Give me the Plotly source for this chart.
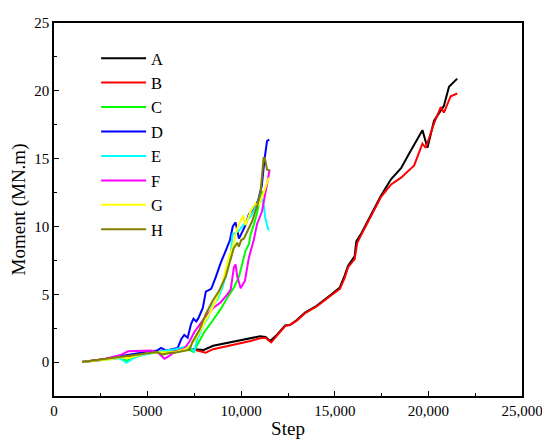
import plotly.graph_objects as go

# Moment vs step, eight runs (A-H)
names = ["A", "B", "C", "D", "E", "F", "G", "H"]
colors = ["#000000", "#ff0000", "#00ff00", "#0000ff", "#00ffff", "#ff00ff", "#ffff00", "#808000"]

a_x = [1500, 2500, 3500, 4500, 5500, 6500, 7000, 7500, 8000, 8500, 9000, 9500, 10000, 10500, 11000,
       11300, 11550, 11900, 12350, 12620, 12970, 13410, 14030, 14740, 15270, 15530, 15710, 16060, 16150,
       16420, 16680, 17480, 18010, 18540, 18980, 19330, 19680, 19950, 20300, 20830, 21100, 21540]
a_y = [0, 0.15, 0.35, 0.55, 0.75, 0.9, 1.0, 0.95, 0.9, 1.2, 1.35, 1.45, 1.6, 1.75, 1.9,
       1.85, 1.55, 2.0, 2.7, 2.75, 3.1, 3.65, 4.15, 4.9, 5.5, 6.4, 7.1, 7.8, 8.9,
       9.5, 10.2, 12.3, 13.5, 14.3, 15.4, 16.3, 17.1, 15.8, 17.8, 18.9, 20.3, 20.9]

b_x = [1500, 2500, 3500, 4500, 5500, 6500, 7000, 7500, 8100, 8500, 9000, 9500, 10000, 10500, 11000,
       11300, 11600, 11900, 12350, 12620, 12970, 13410, 14030, 14740, 15270, 15530, 15710, 16060, 16200,
       16420, 16680, 17480, 18010, 18540, 19240, 19680, 19860, 20300, 20660, 20830, 21190, 21540]
b_y = [0, 0.15, 0.35, 0.55, 0.75, 0.85, 0.95, 0.9, 0.7, 0.95, 1.1, 1.25, 1.35, 1.55, 1.75,
       1.8, 1.45, 1.95, 2.65, 2.75, 3.05, 3.6, 4.1, 4.85, 5.4, 6.2, 7.0, 7.6, 8.8,
       9.4, 10.1, 12.2, 13.1, 13.6, 14.5, 16.1, 15.8, 17.6, 18.8, 18.4, 19.6, 19.8]

c_x = [1500, 2000, 2500, 3000, 3500, 3900, 4400, 5000, 5500, 6000, 6500, 7000, 7230, 7450, 7760,
       8020, 8290, 8640, 8900, 9260, 9610, 9880, 10060, 10230, 10410, 10500, 10670, 10850, 11030, 11150]
c_y = [0, 0.05, 0.15, 0.25, 0.3, 0.1, 0.4, 0.65, 0.7, 0.65, 0.75, 0.95, 0.9, 0.75, 1.5,
       2.2, 2.7, 3.4, 3.9, 4.75, 5.5, 6.3, 7.3, 8.2, 8.7, 9.4, 10.1, 11.0, 12.3, 12.6]

d_x = [1500, 2000, 2500, 3000, 3500, 4000, 4500, 5000, 5500, 5720, 6000, 6300, 6610, 6800, 6960,
       7140, 7320, 7450, 7600, 7700, 7950, 8110, 8400, 8650, 8900, 9170, 9400, 9550, 9700, 9880,
       10060, 10230, 10410, 10650, 10900, 11100, 11250, 11380, 11500]
d_y = [0, 0.05, 0.15, 0.3, 0.45, 0.55, 0.65, 0.75, 0.85, 1.05, 0.85, 0.95, 1.05, 1.7, 2.0,
       1.8, 2.8, 3.2, 3.0, 3.2, 4.0, 5.2, 5.4, 6.3, 7.3, 8.2, 9.0, 10.0, 10.3, 9.1,
       9.6, 10.1, 10.9, 11.3, 11.9, 13.0, 15.0, 16.3, 16.4]

e_x = [1500, 2000, 2500, 3000, 3500, 3870, 4200, 4490, 5000, 5500, 6000, 6500, 6900, 7230, 7490,
       7670, 7930, 8200, 8470, 8730, 9000, 9260, 9440, 9530, 9880, 10230, 10590, 10850, 11030, 11200,
       11290, 11380, 11470]
e_y = [0, 0.05, 0.1, 0.2, 0.3, -0.05, 0.25, 0.45, 0.6, 0.75, 0.85, 0.95, 1.1, 1.15, 0.8,
       1.75, 2.6, 3.2, 4.15, 4.6, 5.5, 6.8, 8.0, 9.4, 9.7, 10.3, 10.9, 11.6, 12.3, 11.6,
       10.6, 10.1, 9.7]

f_x = [1500, 2000, 2500, 3070, 3600, 3960, 4660, 5200, 5550, 5900, 6100, 6350, 6960, 7230, 7490,
       7850, 8200, 8550, 8900, 9260, 9440, 9610, 9700, 9790, 9970, 10200, 10410, 10670, 10850, 11110,
       11290, 11470, 11520]
f_y = [0, 0.05, 0.15, 0.35, 0.55, 0.8, 0.85, 0.85, 0.7, 0.25, 0.4, 0.65, 1.0, 1.5, 2.2,
       2.85, 3.55, 4.05, 4.4, 5.0, 5.35, 7.0, 7.2, 6.3, 5.45, 6.0, 7.7, 9.0, 10.2, 11.1,
       12.5, 13.7, 14.2]

g_x = [1500, 2000, 2500, 3000, 3500, 4000, 4500, 5000, 5500, 6000, 6500, 7000, 7300, 7580, 7930,
       8290, 8640, 9000, 9260, 9610, 9790, 9970, 10100, 10230, 10500, 10760, 10950, 11200, 11350, 11470]
g_y = [0, 0.05, 0.1, 0.2, 0.35, 0.3, 0.5, 0.65, 0.7, 0.75, 0.75, 0.95, 1.2, 1.75, 2.6,
       3.55, 4.5, 5.8, 7.3, 8.8, 9.9, 10.5, 10.8, 10.1, 11.1, 11.7, 11.6, 12.5, 13.1, 13.6]

h_x = [1500, 2000, 2500, 3000, 3500, 4000, 4500, 5000, 5500, 5800, 6100, 6500, 6900, 7230, 7400,
       7760, 8110, 8470, 8820, 9170, 9440, 9600, 9790, 9880, 10000, 10140, 10590, 10850, 11030, 11200,
       11270, 11380, 11520]
h_y = [0, 0.1, 0.2, 0.3, 0.4, 0.45, 0.55, 0.7, 0.75, 0.55, 0.65, 0.7, 0.8, 0.9, 1.5,
       2.35, 3.55, 4.5, 5.25, 6.3, 7.6, 8.4, 8.8, 8.5, 9.0, 9.1, 10.4, 11.5, 12.5, 15.1,
       15.0, 14.2, 14.1]

xs = [a_x, b_x, c_x, d_x, e_x, f_x, g_x, h_x]
ys = [a_y, b_y, c_y, d_y, e_y, f_y, g_y, h_y]

x_ticks = [0, 5000, 10000, 15000, 20000, 25000]
x_ticktext = ["0", "5000", "10,000", "15,000", "20,000", "25,000"]
y_ticks = [0, 5, 10, 15, 20, 25]

serif = "Times New Roman, Liberation Serif, serif"

fig = go.Figure()
for n, c, x, y in zip(names, colors, xs, ys):
    fig.add_trace(go.Scatter(x=x, y=y, name=n, mode="lines",
                             line=dict(color=c, width=2)))

axis_common = dict(
    showline=True, linecolor="black", linewidth=1.5, mirror=True,
    showgrid=False, zeroline=False,
    ticks="inside", ticklen=5, tickwidth=1.2, tickcolor="black",
    tickfont=dict(family=serif, size=15, color="black"),
)

fig.update_xaxes(
    range=[0, 25000], tickvals=x_ticks, ticktext=x_ticktext,
    title=dict(text="Step", font=dict(family=serif, size=19, color="black"), standoff=4),
    minor=dict(ticks="inside", ticklen=3, dtick=2500, tick0=0, tickcolor="black"),
    **axis_common
)
fig.update_yaxes(
    range=[-2.5, 25], tickvals=y_ticks,
    title=dict(text="Moment (MN.m)", font=dict(family=serif, size=19, color="black"), standoff=6),
    minor=dict(ticks="inside", ticklen=3, dtick=2.5, tick0=0, tickcolor="black"),
    **axis_common
)

# page body has an 8px margin, so the figure is a bit smaller than the window
fig.update_layout(
    width=542, height=440,
    margin=dict(l=43, r=27, t=7, b=52),
    plot_bgcolor="white", paper_bgcolor="white",
    font=dict(family=serif, color="black"),
    legend=dict(x=0.09, y=0.952, xanchor="left", yanchor="top",
                font=dict(family=serif, size=16.5, color="black"),
                itemwidth=45, bgcolor="rgba(0,0,0,0)", tracegroupgap=0),
)

fig.write_html("out.html")
